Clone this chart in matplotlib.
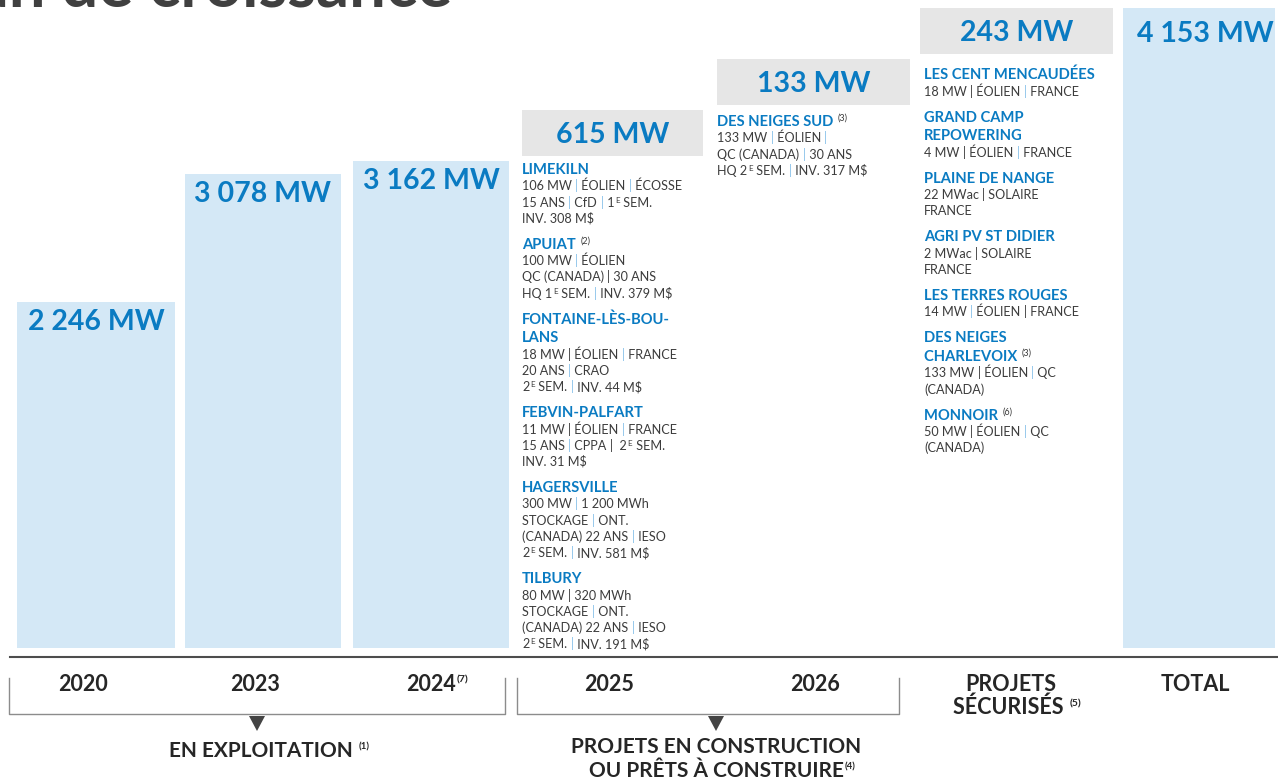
import numpy as np
import matplotlib.pyplot as plt
from matplotlib.font_manager import FontProperties

FAMILLE = ['Lato', 'DejaVu Sans']
plt.rcParams['font.family'] = FAMILLE

# --- donnees
annees = ['2020', '2023', '2024{(7)}']
puissance = [2246, 3078, 3162]        # MW en exploitation
ajouts = [615, 133, 243]              # 2025, 2026, projets securises
total = 4153
cat_ajouts = ['2025', '2026']

projets_2025 = [
    (['LIMEKILN'], ['106 MW | ÉOLIEN | ÉCOSSE', '15 ANS | CfD | 1{E} SEM.', 'INV. 308 M$']),
    (['APUIAT {(2)}'], ['100 MW | ÉOLIEN', 'QC (CANADA) ! 30 ANS', 'HQ 1{E} SEM. | INV. 379 M$']),
    (['FONTAINE-LÈS-BOU-', 'LANS'], ['18 MW ! ÉOLIEN | FRANCE', '20 ANS | CRAO', '2{E} SEM. | INV. 44 M$']),
    (['FEBVIN-PALFART'], ['11 MW ! ÉOLIEN | FRANCE', '15 ANS | CPPA !  2{E} SEM.', 'INV. 31 M$']),
    (['HAGERSVILLE'], ['300 MW | 1 200 MWh', 'STOCKAGE | ONT.', '(CANADA) 22 ANS | IESO', '2{E} SEM. | INV. 581 M$']),
    (['TILBURY'], ['80 MW ! 320 MWh', 'STOCKAGE | ONT.', '(CANADA) 22 ANS | IESO', '2{E} SEM. | INV. 191 M$']),
]
projets_2026 = [
    (['DES NEIGES SUD {(3)}'], ['133 MW | ÉOLIEN |', 'QC (CANADA) | 30 ANS', 'HQ 2{E} SEM. | INV. 317 M$']),
]
projets_securises = [
    (['LES CENT MENCAUDÉES'], ['18 MW ! ÉOLIEN | FRANCE']),
    (['GRAND CAMP', 'REPOWERING'], ['4 MW ! ÉOLIEN | FRANCE']),
    (['PLAINE DE NANGE'], ['22 MWac ! SOLAIRE', 'FRANCE']),
    (['AGRI PV ST DIDIER'], ['2 MWac ! SOLAIRE', 'FRANCE']),
    (['LES TERRES ROUGES'], ['14 MW | ÉOLIEN ! FRANCE']),
    (['DES NEIGES', 'CHARLEVOIX {(3)}'], ['133 MW ! ÉOLIEN | QC', '(CANADA)']),
    (['MONNOIR {(6)}'], ['50 MW ! ÉOLIEN | QC', '(CANADA)']),
]

# --- mise en page (pixels de l'image)
x_barres = [96, 263, 431]
l_barres = [158, 156, 156]
x_boites = [612.5, 813.5, 1016.5]
l_boites = [181, 193, 193]
x_total, l_total = 1199, 152
x_cat = [83, 255, 431]
x_cat_ajouts = [609, 815]

BLEU = '#0a7bc2'
BARRE = '#d4e8f6'
BOITE = '#e6e6e6'
GRIS = '#3c3c3c'
PIPE = '#8cc3ea'
NOIR = '#262626'

fig = plt.figure(figsize=(12.78, 7.79), dpi=100)
ax = fig.add_axes([0, 131 / 779, 1, 640 / 779])
ax.set_xlim(0, 1278)
ax.set_ylim(0, total)
ax.axis('off')
ov = fig.add_axes([0, 0, 1, 1], zorder=5)
ov.set_xlim(0, 1278)
ov.set_ylim(779, 0)
ov.axis('off')
ov.patch.set_visible(False)

rend = fig.canvas.get_renderer()


def fmt(v):
    return f'{v:,}'.replace(',', ' ') + ' MW'


def adv(s, size, weight):
    fp = FontProperties(family=FAMILLE, size=size, weight=weight)
    w1 = rend.get_text_width_height_descent(s + 'H', fp, ismath=False)[0]
    w0 = rend.get_text_width_height_descent('H', fp, ismath=False)[0]
    return w1 - w0


def parse(s):
    out, buf, i = [], '', 0
    while i < len(s):
        c = s[i]
        if c in '|!':
            if buf:
                out.append((buf, 'n'))
                buf = ''
            out.append(('|', 'p' if c == '|' else 'd'))
        elif c == '{':
            if buf:
                out.append((buf, 'n'))
                buf = ''
            j = s.index('}', i)
            out.append((s[i + 1:j], 's'))
            i = j
        else:
            buf += c
        i += 1
    if buf:
        out.append((buf, 'n'))
    return out


def rich(x, y, s, size, weight='normal', color=GRIS, centre=False,
         sup_size=None, sup_weight='normal', sup_color=GRIS, rise=4):
    segs = parse(s)
    sup_size = sup_size or size * 0.62
    ws = []
    for t, k in segs:
        if k == 's':
            ws.append(adv(t, sup_size, sup_weight) + 1.5)
        elif k in 'pd':
            ws.append(adv(t, size, 'normal'))
        else:
            ws.append(adv(t, size, weight))
    if centre:
        x -= sum(w for (t, k), w in zip(segs, ws) if k != 's') / 2
    for (t, k), w in zip(segs, ws):
        if k == 's':
            ov.text(x + 0.8, y - rise, t, fontsize=sup_size, fontweight=sup_weight,
                    color=sup_color, va='baseline', parse_math=False)
        elif k == 'p':
            ov.text(x, y, t, fontsize=size, color=PIPE, va='baseline', parse_math=False)
        elif k == 'd':
            ov.text(x, y, t, fontsize=size, color=GRIS, va='baseline', parse_math=False)
        else:
            ov.text(x, y, t, fontsize=size, fontweight=weight, color=color,
                    va='baseline', parse_math=False)
        x += w


# titre coupe en haut
ov.text(452, 6, 'Plan de croissance', ha='right', va='baseline', fontsize=47,
        fontweight='bold', color='#404040')

# barres en exploitation
ax.bar(x_barres, puissance, width=l_barres, color=BARRE)
for x, v in zip(x_barres, puissance):
    ax.annotate(fmt(v), (x, v), xytext=(0, -20), textcoords='offset pixels',
                ha='center', va='center', fontsize=20.5, fontweight='bold', color=BLEU)

# total
ax.bar([x_total], [total], width=l_total, color=BARRE)
ax.annotate(fmt(total), (x_total, total), xytext=(6, -26), textcoords='offset pixels',
            ha='center', va='center', fontsize=20.5, fontweight='bold', color=BLEU)

# boites des ajouts, en escalier entre 2024 et le total
mw_par_px = total / 640
marches = np.linspace(puissance[-1], total, len(ajouts) + 1)[1:]
h_boite = 46 * mw_par_px
ax.bar(x_boites, [h_boite] * len(ajouts), bottom=marches - h_boite, width=l_boites, color=BOITE)
for x, m, v in zip(x_boites, marches, ajouts):
    ax.text(x, m - h_boite / 2 - 2 * mw_par_px, fmt(v), ha='center', va='center',
            fontsize=20.5, fontweight='bold', color=BLEU)


def bas_px(v):
    return 779 - ax.transData.transform((0, v))[1]


def colonne(x, y, projets, pas_t=18.5, t2d=17, pas_d=16.2, ecart=25.5):
    for k, (titres, details) in enumerate(projets):
        if k:
            y += ecart
        for i, t in enumerate(titres):
            if i:
                y += pas_t
            rich(x, y + 5, t, 10.6, 'bold', BLEU, sup_size=6.5, sup_color=GRIS, rise=5.5)
        for i, d in enumerate(details):
            y += t2d if i == 0 else pas_d
            rich(x, y + 4.5, d, 9.1, 'normal', GRIS, sup_size=5.8, rise=4)


ecarts = [13, 16, 20]
for xg, m, ec, pr in zip([522, 717, 924], marches, ecarts,
                         [projets_2025, projets_2026, projets_securises]):
    colonne(xg, bas_px(m - h_boite) + ec, pr)

# axe du bas
ov.plot([10, 1278], [656.5, 656.5], color='#4d4d4d', lw=1.5)
for x, c in zip(x_cat, annees):
    rich(x, 691, c, 15.5, 'bold', NOIR, centre=True, sup_size=7.5, sup_weight='bold',
         sup_color=NOIR, rise=9)
for x, c in zip(x_cat_ajouts, cat_ajouts):
    rich(x, 691, c, 15.5, 'bold', NOIR, centre=True)
rich(1011, 691, 'PROJETS', 15.5, 'bold', NOIR, centre=True)
rich(1011, 714.5, 'SÉCURISÉS {(5)}', 15.5, 'bold', NOIR, centre=True, sup_size=7.5,
     sup_weight='bold', sup_color=NOIR, rise=8)
rich(1195, 691, 'TOTAL', 15.5, 'bold', NOIR, centre=True)

# accolades et groupes
for g, d in [(9, 505), (517, 899)]:
    ov.plot([g, g, d, d], [678, 714, 714, 678], color='#8c8c8c', lw=1)
for xc in [257, 716]:
    ov.fill([xc - 8, xc + 8, xc], [716, 716, 731], color='#444444', lw=0)
rich(263, 757, 'EN EXPLOITATION {(1)}', 15, 'bold', NOIR, centre=True, sup_size=7,
     sup_weight='bold', sup_color=NOIR, rise=8)
rich(716, 753, 'PROJETS EN CONSTRUCTION', 15, 'bold', NOIR, centre=True)
rich(716, 777, 'OU PRÊTS À CONSTRUIRE{(4)}', 15, 'bold', NOIR, centre=True, sup_size=7,
     sup_weight='bold', sup_color=NOIR, rise=8)

fig.savefig('out.png', dpi=100)
